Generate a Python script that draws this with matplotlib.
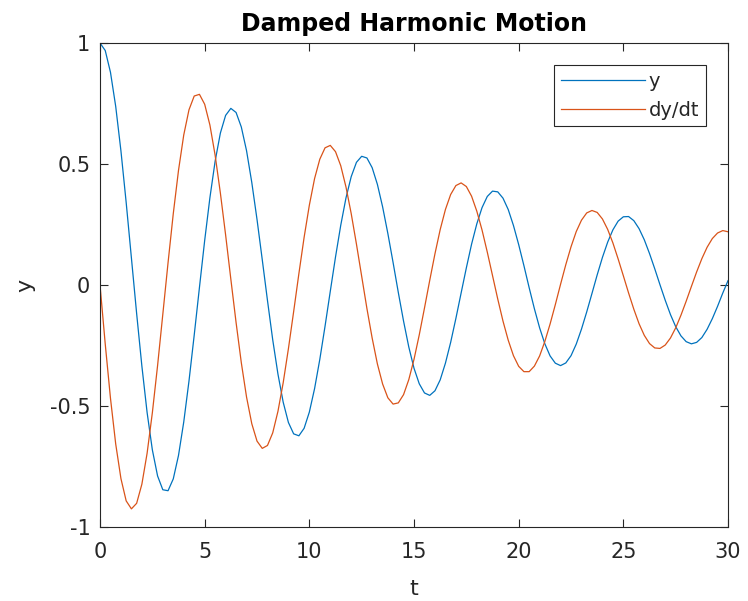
import matplotlib
matplotlib.use("Agg")
import matplotlib.pyplot as plt

# samples, t from 0 to 30 every 0.25
t = [i * 0.25 for i in range(121)]

y = [1.000, 0.969, 0.879, 0.738, 0.554, 0.341, 0.112, -0.118,
     -0.335, -0.527, -0.681, -0.789, -0.846, -0.850, -0.801, -0.704,
     -0.566, -0.397, -0.207, -0.010, 0.184, 0.361, 0.512, 0.628,
     0.701, 0.730, 0.713, 0.653, 0.555, 0.424, 0.271, 0.105,
     -0.064, -0.226, -0.368, -0.484, -0.568, -0.615, -0.623, -0.592,
     -0.525, -0.428, -0.307, -0.170, -0.026, 0.116, 0.247, 0.360,
     0.448, 0.507, 0.532, 0.525, 0.485, 0.416, 0.323, 0.213,
     0.093, -0.031, -0.149, -0.256, -0.344, -0.408, -0.446, -0.456,
     -0.437, -0.392, -0.323, -0.237, -0.138, -0.033, 0.071, 0.169,
     0.253, 0.320, 0.366, 0.388, 0.385, 0.359, 0.312, 0.246,
     0.167, 0.080, -0.011, -0.098, -0.177, -0.243, -0.293, -0.323,
     -0.333, -0.322, -0.292, -0.244, -0.182, -0.111, -0.035, 0.042,
     0.114, 0.177, 0.228, 0.264, 0.282, 0.283, 0.266, 0.233,
     0.187, 0.130, 0.067, 0.001, -0.063, -0.122, -0.172, -0.210,
     -0.234, -0.243, -0.237, -0.217, -0.183, -0.139, -0.088, -0.033,
     0.018]

dydt = [0.000, -0.244, -0.468, -0.657, -0.800, -0.892, -0.925, -0.902,
        -0.823, -0.695, -0.528, -0.333, -0.121, 0.092, 0.295, 0.474,
        0.620, 0.724, 0.781, 0.788, 0.747, 0.661, 0.536, 0.380,
        0.207, 0.024, -0.155, -0.321, -0.463, -0.573, -0.645, -0.675,
        -0.663, -0.611, -0.522, -0.404, -0.263, -0.110, 0.047, 0.197,
        0.330, 0.440, 0.520, 0.567, 0.577, 0.551, 0.493, 0.405,
        0.295, 0.169, 0.036, -0.097, -0.219, -0.326, -0.409, -0.466,
        -0.492, -0.487, -0.453, -0.391, -0.307, -0.206, -0.095, 0.019,
        0.129, 0.229, 0.312, 0.374, 0.411, 0.422, 0.407, 0.367,
        0.305, 0.227, 0.136, 0.039, -0.058, -0.149, -0.228, -0.292,
        -0.336, -0.358, -0.358, -0.335, -0.293, -0.233, -0.161, -0.081,
        0.003, 0.084, 0.158, 0.221, 0.268, 0.298, 0.308, 0.300,
        0.273, 0.230, 0.174, 0.108, 0.038, -0.033, -0.100, -0.160,
        -0.208, -0.242, -0.260, -0.262, -0.248, -0.219, -0.177, -0.125,
        -0.067, -0.006, 0.054, 0.109, 0.156, 0.192, 0.215, 0.225,
        0.220]

xticks = [0, 5, 10, 15, 20, 25, 30]
yticks = [-1, -0.5, 0, 0.5, 1]
yticklabels = ["-1", "-0.5", "0", "0.5", "1"]

plt.rcParams['font.family'] = ['DejaVu Sans']
ink = "#262626"

fig = plt.figure(figsize=(7.48, 6.01), dpi=100)
ax = fig.add_axes([0.1337, 0.1231, 0.8396, 0.8053])

ax.plot(t, y, color="#0072BD", lw=0.9, label="y")
ax.plot(t, dydt, color="#D95319", lw=0.9, label="dy/dt")

ax.set_xlim(0, 30)
ax.set_ylim(-1, 1)
ax.set_xticks(xticks)
ax.set_yticks(yticks)
ax.set_yticklabels(yticklabels)
ax.tick_params(direction="in", length=6, width=0.8, colors=ink,
               labelsize=15, top=True, right=True)
ax.tick_params(axis="x", pad=11)
ax.tick_params(axis="y", pad=7)
for sp in ax.spines.values():
    sp.set_color(ink)
    sp.set_linewidth(0.8)

ax.set_xlabel("t", fontsize=16, color=ink, labelpad=12)
ax.set_ylabel("y", fontsize=16, color=ink, labelpad=10)
ax.set_title("Damped Harmonic Motion", fontsize=17, fontweight="bold",
             color="black", pad=9)

leg = ax.legend(loc="upper right", bbox_to_anchor=(0.965, 0.9545),
                fontsize=14, frameon=True, fancybox=False, framealpha=1,
                edgecolor=ink, handlelength=4.3, handletextpad=0.2,
                labelspacing=0.5, borderpad=0.35, borderaxespad=0)
leg.get_frame().set_linewidth(0.8)
for txt in leg.get_texts():
    txt.set_color(ink)

fig.savefig("out.png", dpi=100, facecolor="white")
